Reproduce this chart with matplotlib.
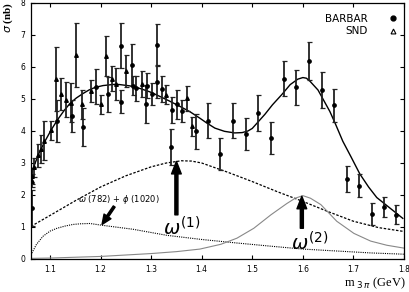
import numpy as np
import matplotlib
matplotlib.use("Agg")
import matplotlib.pyplot as plt
from matplotlib.lines import Line2D

# BaBar points (mass GeV, sigma nb, error)
babar_x = [1.064, 1.114, 1.143, 1.165, 1.191, 1.214, 1.2397, 1.241, 1.263, 1.265,
           1.271, 1.290, 1.291, 1.3016, 1.311, 1.312, 1.321, 1.3385, 1.341, 1.3516,
           1.361, 1.3885, 1.412, 1.437, 1.462, 1.4868, 1.5117, 1.5368, 1.562, 1.586,
           1.612, 1.637, 1.661, 1.6866, 1.711, 1.736, 1.760, 1.785]
babar_y = [1.60, 4.32, 4.46, 4.13, 5.39, 5.15, 6.67, 4.92, 6.06, 5.42,
           5.33, 4.84, 5.42, 5.15, 5.54, 6.70, 5.31, 3.50, 4.66, 4.84,
           4.63, 3.99, 4.32, 3.27, 4.32, 3.91, 4.56, 3.79, 5.64, 5.36,
           6.19, 5.28, 4.80, 2.50, 2.29, 1.41, 1.62, 1.38]
babar_e = [0.57, 0.65, 0.5, 0.6, 0.55, 0.55, 0.7, 0.35, 0.65, 0.3,
           0.4, 0.6, 0.4, 0.35, 0.5, 0.65, 0.4, 0.55, 0.4, 0.45,
           0.35, 0.55, 0.55, 0.5, 0.55, 0.5, 0.55, 0.5, 0.55, 0.55,
           0.6, 0.55, 0.52, 0.41, 0.36, 0.34, 0.32, 0.3]

# SND points
snd_x = [1.0635, 1.065, 1.069, 1.077, 1.082, 1.0888, 1.102, 1.112, 1.122, 1.131,
         1.1415, 1.152, 1.163, 1.181, 1.2014, 1.211, 1.2225, 1.231, 1.2502, 1.282,
         1.330, 1.370, 1.380]
snd_y = [2.60, 2.45, 2.87, 3.24, 3.44, 3.70, 4.02, 5.61, 5.15, 4.98,
         4.89, 6.37, 4.84, 5.25, 4.84, 6.35, 5.64, 5.46, 5.88, 5.46,
         5.13, 5.02, 4.15]
snd_e = [0.25, 0.2, 0.3, 0.35, 0.45, 0.6, 0.3, 1.0, 0.5, 0.55,
         0.6, 1.0, 0.45, 0.35, 0.3, 0.62, 0.4, 0.5, 0.5, 0.4,
         0.3, 0.4, 0.3]

# total fit
tot_x = [1.0625, 1.0664, 1.078, 1.0901, 1.103, 1.1158, 1.128, 1.1395, 1.152, 1.1652,
         1.177, 1.1889, 1.205, 1.2225, 1.23, 1.2383, 1.258, 1.2779, 1.298, 1.3174,
         1.337, 1.3569, 1.377, 1.3964, 1.41, 1.4261, 1.445, 1.465, 1.48, 1.4913,
         1.5, 1.5249, 1.54, 1.5585, 1.575, 1.59, 1.6, 1.607, 1.6138, 1.63,
         1.6534, 1.665, 1.679, 1.695, 1.7126, 1.73, 1.7462, 1.77, 1.7976]
tot_y = [2.55, 2.82, 3.30, 3.68, 4.05, 4.37, 4.64, 4.86, 5.03, 5.17,
         5.28, 5.36, 5.42, 5.45, 5.46, 5.45, 5.41, 5.33, 5.22, 5.08,
         4.93, 4.77, 4.60, 4.40, 4.25, 4.09, 3.99, 3.94, 3.95, 4.0,
         4.08, 4.52, 4.82, 5.14, 5.45, 5.62, 5.67, 5.65, 5.56, 5.28,
         4.61, 4.2, 3.68, 3.2, 2.66, 2.25, 1.92, 1.62, 1.27]

# omega(1) contribution
w1_x = [1.0625, 1.10, 1.15, 1.20, 1.25, 1.30, 1.33, 1.36, 1.38, 1.40,
        1.45, 1.50, 1.55, 1.60, 1.65, 1.70, 1.75, 1.80]
w1_y = [1.02, 1.36, 1.82, 2.25, 2.60, 2.88, 3.0, 3.07, 3.06, 3.0,
        2.72, 2.42, 2.1, 1.8, 1.48, 1.18, 0.98, 0.86]

# omega(782) + phi(1020) tail
wp_x = [1.0625, 1.0644, 1.073, 1.0862, 1.10, 1.1138, 1.13, 1.1455, 1.16, 1.179,
        1.2047, 1.264, 1.331, 1.4, 1.4696, 1.5368, 1.60, 1.667, 1.734, 1.80]
wp_y = [0.12, 0.19, 0.45, 0.71, 0.87, 0.96, 1.03, 1.08, 1.10, 1.11,
        1.05, 0.93, 0.74, 0.61, 0.50, 0.40, 0.31, 0.25, 0.19, 0.15]

# omega(2) contribution
w2_x = [1.0625, 1.10, 1.20, 1.30, 1.35, 1.3964, 1.438, 1.4696, 1.503, 1.5368,
        1.568, 1.585, 1.60, 1.615, 1.6356, 1.667, 1.701, 1.734, 1.766, 1.80]
w2_y = [0.02, 0.03, 0.08, 0.17, 0.23, 0.31, 0.46, 0.65, 0.96, 1.38,
        1.73, 1.90, 1.98, 1.90, 1.70, 1.18, 0.80, 0.56, 0.43, 0.34]

xticks = [1.1, 1.2, 1.3, 1.4, 1.5, 1.6, 1.7, 1.8]
yticks = [0, 1, 2, 3, 4, 5, 6, 7, 8]

fig = plt.figure(figsize=(4.09, 2.92), dpi=100)
ax = fig.add_axes([31/409, 1-259/292, 373/409, 256/292])

ax.plot(tot_x, tot_y, color="black", lw=1.0)
ax.plot(w1_x, w1_y, color="black", lw=0.9, ls=(0, (2, 1.3)))
ax.plot(wp_x, wp_y, color="black", lw=0.8, ls=(0, (1, 1)))
ax.plot(w2_x, w2_y, color="#888888", lw=0.8)

eb = dict(fmt="none", ecolor="#222222", elinewidth=1.3, capsize=1.8, capthick=0.9)
ax.errorbar(babar_x, babar_y, yerr=babar_e, **eb)
ax.errorbar(snd_x, snd_y, yerr=snd_e, **eb)
ax.plot(babar_x, babar_y, "o", color="black", ms=2.4, ls="none")
ax.plot(snd_x, snd_y, "^", color="black", ms=2.6, ls="none")

# arrows and labels
arr = dict(facecolor="black", edgecolor="black", width=2.2, headwidth=7, headlength=9)
ax.annotate("", xy=(1.35, 3.05), xytext=(1.35, 1.38), arrowprops=arr)
ax.annotate("", xy=(1.598, 1.96), xytext=(1.598, 0.96), arrowprops=arr)
ax.annotate("", xy=(1.203, 1.08), xytext=(1.227, 1.64),
            arrowprops=dict(facecolor="black", edgecolor="black", width=1.6,
                            headwidth=6, headlength=7))
ax.text(1.36, 0.98, r"$\omega^{(1)}$", fontsize=14, ha="center", va="center")
ax.text(1.613, 0.5, r"$\omega^{(2)}$", fontsize=14, ha="center", va="center")
ax.text(1.236, 1.85, r"$\omega$ (782) + $\phi$ (1020)", fontsize=6, ha="center",
        va="center")

ax.set_xlim(1.0625, 1.8)
ax.set_ylim(0, 8)
ax.set_xticks(xticks)
ax.set_yticks(yticks)
ax.tick_params(direction="in", length=3, width=0.8, labelsize=5.5, top=True,
               right=True, pad=4)
for s in ax.spines.values():
    s.set_linewidth(0.9)

handles = [Line2D([], [], marker="o", color="black", ls="none", ms=3.5),
           Line2D([], [], marker="^", markerfacecolor="white", markeredgecolor="black",
                  ls="none", ms=3.5, markeredgewidth=0.8)]
ax.legend(handles, ["BARBAR", "SND"], loc="upper right", frameon=False,
          markerfirst=False, fontsize=7.5, handletextpad=1.4,
          labelspacing=0.25, borderaxespad=0.0, bbox_to_anchor=(1.01, 0.975))

fig.text(8/409, 1-2/292, r"$\sigma$ (nb)", rotation=90, ha="center", va="top",
         fontsize=8, family="Liberation Serif", weight="bold")
fig.text(406/409, 1-283/292, r"m$_{\ 3\,\pi}$ (GeV)", ha="right", va="center",
         fontsize=9, family="Liberation Serif")

fig.savefig("out.png", dpi=100)
